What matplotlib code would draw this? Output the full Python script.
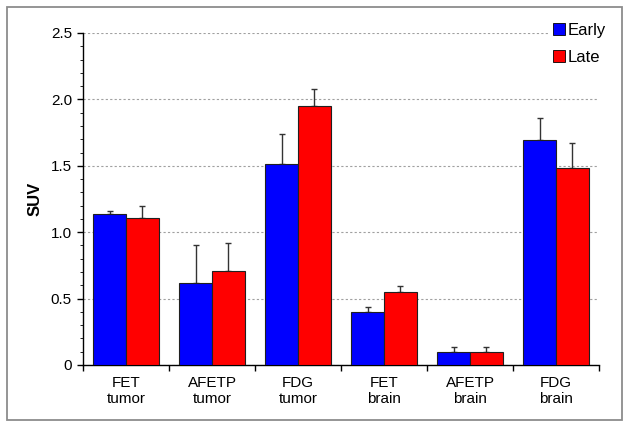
import numpy as np
import matplotlib
matplotlib.use('Agg')
import matplotlib.pyplot as plt
from matplotlib.patches import Rectangle, Patch

plt.rcParams['font.family'] = ['Liberation Sans', 'DejaVu Sans']

# Datos
categorias = ['FET\ntumor', 'AFETP\ntumor', 'FDG\ntumor', 'FET\nbrain', 'AFETP\nbrain', 'FDG\nbrain']
early = [1.14, 0.615, 1.515, 0.40, 0.098, 1.695]
early_err = [0.02, 0.29, 0.225, 0.04, 0.04, 0.165]
late = [1.105, 0.71, 1.95, 0.547, 0.098, 1.48]
late_err = [0.09, 0.21, 0.127, 0.05, 0.04, 0.19]

fig = plt.figure(figsize=(6.29, 4.29), dpi=100)
ax = fig.add_axes([83/629, 1-365/429, (599-83)/629, (365-33)/429])

# marco exterior
fig.patches.append(Rectangle((7/629, 1-420/429), 615/629, 413/429, transform=fig.transFigure,
                             fill=False, edgecolor='#8c8c8c', linewidth=1.3))

x = np.arange(len(categorias))
w = 0.38
ax.bar(x - w/2, early, w, color='#0000ff', edgecolor='#202020', linewidth=0.8, zorder=3)
ax.bar(x + w/2, late, w, color='#ff0000', edgecolor='#202020', linewidth=0.8, zorder=3)
ax.errorbar(x - w/2, early, yerr=[np.zeros(len(early)), early_err], fmt='none',
            ecolor='#333333', elinewidth=1, capsize=2, capthick=1, zorder=2)
ax.errorbar(x + w/2, late, yerr=[np.zeros(len(late)), late_err], fmt='none',
            ecolor='#333333', elinewidth=1, capsize=2, capthick=1, zorder=2)

ax.set_xlim(-0.5, len(categorias) - 0.5)
ax.set_ylim(0, 2.5)
ax.set_yticks([0, 0.5, 1.0, 1.5, 2.0, 2.5])
ax.set_yticklabels(['0', '0.5', '1.0', '1.5', '2.0', '2.5'], fontsize=11)
ax.set_yticks(np.arange(0, 2.51, 0.1), minor=True)
ax.tick_params(axis='y', which='major', length=4, width=1, direction='out', pad=4)
ax.tick_params(axis='y', which='minor', length=2, width=0.6, direction='out')

ax.set_xticks(x)
ax.set_xticklabels(categorias, fontsize=11, linespacing=1.2)
ax.set_xticks(np.arange(-0.5, len(categorias), 1.0), minor=True)
ax.tick_params(axis='x', which='major', length=0, pad=8)
ax.tick_params(axis='x', which='minor', length=4, width=1, direction='out')

ax.set_ylabel('SUV', fontsize=12, fontweight='bold', labelpad=6)

for s in ['top', 'right']:
    ax.spines[s].set_visible(False)
for s in ['left', 'bottom']:
    ax.spines[s].set_linewidth(1)

ax.yaxis.grid(True, which='major', linestyle=(0, (2, 2)), color='#a0a0a0', linewidth=0.8, zorder=0)
ax.set_axisbelow(True)

handles = [Patch(facecolor='#0000ff', edgecolor='black', linewidth=0.6, label='Early'),
           Patch(facecolor='#ff0000', edgecolor='black', linewidth=0.6, label='Late')]
leg = fig.legend(handles=handles, loc='upper left', bbox_to_anchor=(548/629, 1-18/429),
                 fontsize=12, frameon=True, facecolor='white', edgecolor='none', framealpha=1,
                 handlelength=0.7, handleheight=0.7, handletextpad=0.15, labelspacing=0.7,
                 borderpad=0.3, borderaxespad=0)

fig.savefig('out.png', dpi=100)
